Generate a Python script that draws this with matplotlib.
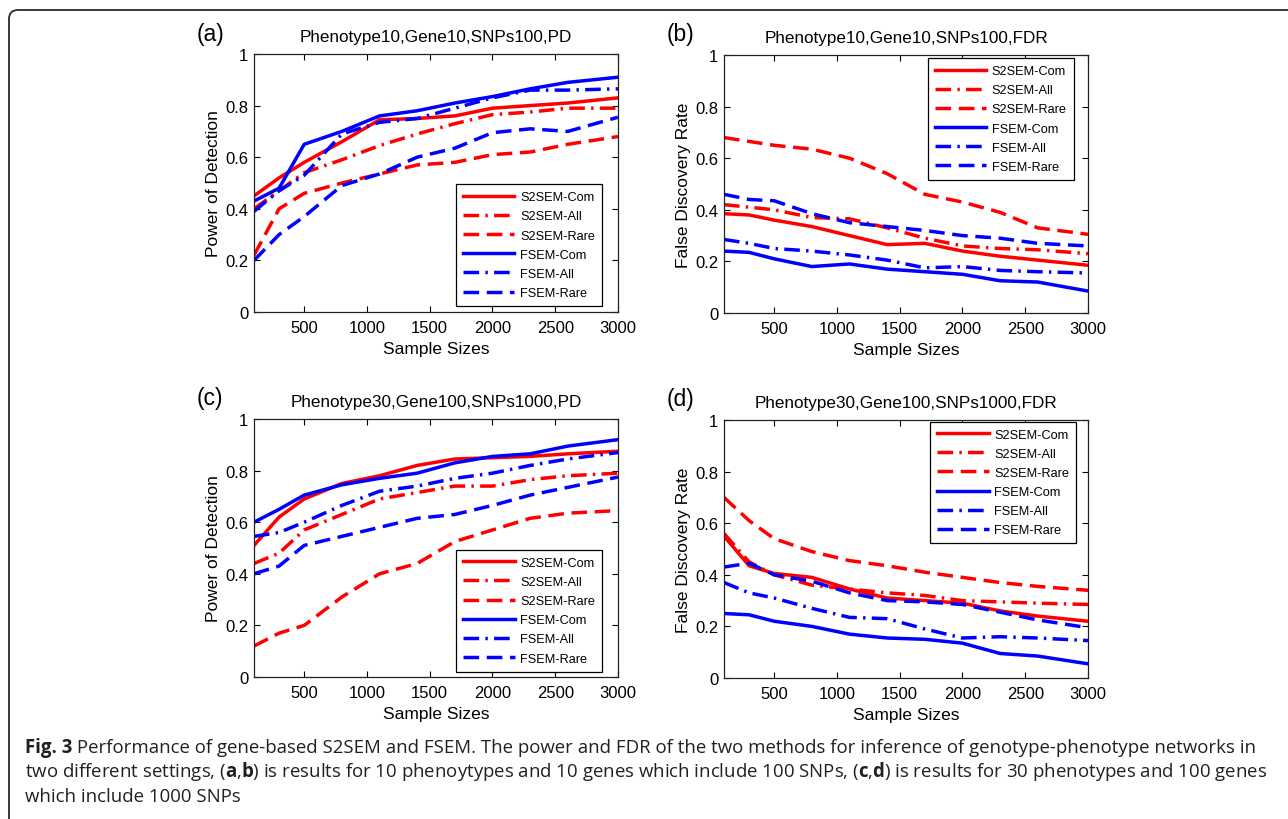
import numpy as np
import matplotlib.pyplot as plt
from matplotlib.patches import FancyBboxPatch
from matplotlib.transforms import IdentityTransform

plt.rcParams['font.family'] = ['Liberation Sans', 'DejaVu Sans']
plt.rcParams['mathtext.fontset'] = 'custom'
plt.rcParams['mathtext.rm'] = 'Open Sans'
plt.rcParams['mathtext.bf'] = 'Open Sans:bold'

sizes = [100, 300, 500, 800, 1100, 1400, 1700, 2000, 2300, 2600, 3000]
labels = ['S2SEM-Com', 'S2SEM-All', 'S2SEM-Rare', 'FSEM-Com', 'FSEM-All', 'FSEM-Rare']

# (a) power, 10 phenotypes
pd_a_s2_com = [0.45, 0.52, 0.58, 0.66, 0.745, 0.75, 0.76, 0.79, 0.80, 0.81, 0.83]
pd_a_s2_all = [0.40, 0.47, 0.54, 0.59, 0.645, 0.69, 0.73, 0.765, 0.775, 0.79, 0.79]
pd_a_s2_rare = [0.22, 0.40, 0.46, 0.50, 0.535, 0.57, 0.58, 0.61, 0.62, 0.65, 0.68]
pd_a_f_com = [0.43, 0.48, 0.65, 0.70, 0.76, 0.78, 0.81, 0.835, 0.865, 0.89, 0.91]
pd_a_f_all = [0.39, 0.47, 0.53, 0.69, 0.735, 0.75, 0.79, 0.83, 0.86, 0.86, 0.865]
pd_a_f_rare = [0.20, 0.30, 0.37, 0.49, 0.535, 0.60, 0.635, 0.695, 0.71, 0.70, 0.755]

# (b) FDR, 10 phenotypes
fdr_b_s2_com = [0.385, 0.38, 0.36, 0.335, 0.30, 0.265, 0.27, 0.24, 0.22, 0.205, 0.185]
fdr_b_s2_all = [0.42, 0.41, 0.40, 0.37, 0.365, 0.33, 0.29, 0.26, 0.25, 0.245, 0.23]
fdr_b_s2_rare = [0.68, 0.665, 0.65, 0.635, 0.60, 0.54, 0.46, 0.43, 0.39, 0.33, 0.305]
fdr_b_f_com = [0.24, 0.235, 0.21, 0.18, 0.19, 0.17, 0.16, 0.15, 0.125, 0.12, 0.085]
fdr_b_f_all = [0.285, 0.27, 0.25, 0.24, 0.225, 0.205, 0.175, 0.18, 0.165, 0.16, 0.155]
fdr_b_f_rare = [0.46, 0.44, 0.435, 0.385, 0.35, 0.335, 0.32, 0.30, 0.29, 0.27, 0.26]

# (c) power, 30 phenotypes
pd_c_s2_com = [0.51, 0.62, 0.69, 0.75, 0.78, 0.82, 0.845, 0.85, 0.855, 0.865, 0.875]
pd_c_s2_all = [0.44, 0.48, 0.57, 0.63, 0.69, 0.715, 0.74, 0.74, 0.765, 0.78, 0.79]
pd_c_s2_rare = [0.12, 0.17, 0.20, 0.31, 0.40, 0.44, 0.525, 0.57, 0.615, 0.635, 0.645]
pd_c_f_com = [0.60, 0.65, 0.705, 0.745, 0.77, 0.79, 0.83, 0.855, 0.865, 0.895, 0.92]
pd_c_f_all = [0.545, 0.56, 0.60, 0.665, 0.72, 0.74, 0.77, 0.79, 0.82, 0.845, 0.87]
pd_c_f_rare = [0.40, 0.43, 0.51, 0.545, 0.58, 0.615, 0.63, 0.665, 0.705, 0.735, 0.775]

# (d) FDR, 30 phenotypes
fdr_d_s2_com = [0.55, 0.435, 0.405, 0.39, 0.345, 0.31, 0.30, 0.29, 0.26, 0.24, 0.22]
fdr_d_s2_all = [0.56, 0.45, 0.40, 0.36, 0.345, 0.33, 0.32, 0.30, 0.295, 0.29, 0.285]
fdr_d_s2_rare = [0.70, 0.61, 0.54, 0.49, 0.455, 0.435, 0.41, 0.39, 0.37, 0.355, 0.34]
fdr_d_f_com = [0.25, 0.245, 0.22, 0.20, 0.17, 0.155, 0.15, 0.135, 0.095, 0.085, 0.055]
fdr_d_f_all = [0.37, 0.33, 0.31, 0.27, 0.235, 0.23, 0.19, 0.155, 0.16, 0.155, 0.145]
fdr_d_f_rare = [0.43, 0.445, 0.40, 0.375, 0.33, 0.30, 0.295, 0.285, 0.255, 0.225, 0.195]

dashdot = (0, (4.5, 1.8, 0.7, 1.8))
dashed = (0, (4.5, 2.2))
styles = [('red', '-'), ('red', dashdot), ('red', dashed),
          ('blue', '-'), ('blue', dashdot), ('blue', dashed)]

fig = plt.figure(figsize=(12.88, 8.2), dpi=100)

def panel(rect, tag, title, ylabel, series, legend_loc, anchor):
    ax = fig.add_axes(rect)
    for (color, ls), lab, ys in zip(styles, labels, series):
        ax.plot(sizes, ys, color=color, linestyle=ls, lw=2.5, label=lab)
    ax.set_xlim(100, 3000)
    ax.set_ylim(0, 1)
    ax.set_xticks([500, 1000, 1500, 2000, 2500, 3000])
    ax.set_yticks([0, 0.2, 0.4, 0.6, 0.8, 1])
    ax.set_yticklabels(['0', '0.2', '0.4', '0.6', '0.8', '1'])
    ax.tick_params(direction='in', top=True, right=True, length=4, width=0.8,
                   labelsize=12, pad=4)
    ax.tick_params(axis='x', pad=6)
    for sp in ax.spines.values():
        sp.set_linewidth(0.9)
        sp.set_color('#222222')
    ax.set_title(title, fontsize=12.3, pad=9)
    ax.set_xlabel('Sample Sizes', fontsize=12.5, labelpad=4)
    ax.set_ylabel(ylabel, fontsize=12.5, labelpad=3)
    leg = ax.legend(loc=legend_loc, bbox_to_anchor=anchor, fontsize=9.2, handlelength=4.0,
                    labelspacing=0.56, fancybox=False, edgecolor='black', framealpha=1,
                    borderaxespad=0, handletextpad=0.45, borderpad=0.55)
    leg.get_frame().set_linewidth(0.9)
    fig.text(rect[0] - 57 / 1288, rect[1] + rect[3] + 21 / 820, tag,
             fontsize=16.5, va='center', ha='left')
    return ax

w, h = 364 / 1288, 258 / 820
panel([254 / 1288, 1 - 313 / 820, w, h], '(a)', 'Phenotype10,Gene10,SNPs100,PD',
      'Power of Detection',
      [pd_a_s2_com, pd_a_s2_all, pd_a_s2_rare, pd_a_f_com, pd_a_f_all, pd_a_f_rare],
      'lower right', (0.956, 0.023))
panel([724 / 1288, 1 - 314 / 820, w, h], '(b)', 'Phenotype10,Gene10,SNPs100,FDR',
      'False Discovery Rate',
      [fdr_b_s2_com, fdr_b_s2_all, fdr_b_s2_rare, fdr_b_f_com, fdr_b_f_all, fdr_b_f_rare],
      'upper right', (0.961, 0.988))
panel([254 / 1288, 1 - 678 / 820, w, h], '(c)', 'Phenotype30,Gene100,SNPs1000,PD',
      'Power of Detection',
      [pd_c_s2_com, pd_c_s2_all, pd_c_s2_rare, pd_c_f_com, pd_c_f_all, pd_c_f_rare],
      'lower right', (0.957, 0.021))
panel([724 / 1288, 1 - 679 / 820, w, h], '(d)', 'Phenotype30,Gene100,SNPs1000,FDR',
      'False Discovery Rate',
      [fdr_d_s2_com, fdr_d_s2_all, fdr_d_s2_rare, fdr_d_f_com, fdr_d_f_all, fdr_d_f_rare],
      'upper right', (0.968, 0.994))

# rounded frame around the figure (pixel coordinates)
frame = FancyBboxPatch((9, -60), 1400, 809 + 60, boxstyle='round,pad=0,rounding_size=9',
                       fill=False, edgecolor='#2a2a2a', lw=1.3, transform=IdentityTransform())
fig.add_artist(frame)

# caption: bold "Fig. 3" then the rest right after it
cap_kw = dict(fontfamily='Open Sans', fontsize=13.4, color='#231f20', va='baseline', ha='left')
x0 = 25 / 1288
y0 = 1 - 753 / 820
fig_tag = fig.text(x0, y0, 'Fig. 3', fontweight='bold', **cap_kw)
renderer = fig.canvas.get_renderer()
tag_right = fig.transFigure.inverted().transform(
    (fig_tag.get_window_extent(renderer).x1, 0))[0]
fig.text(tag_right, y0, ' Performance of gene-based S2SEM and FSEM. The power and FDR of the two '
         'methods for inference of genotype-phenotype networks in', **cap_kw)

caption_rest = [
    r'two different settings, ($\mathbf{a}$,$\mathbf{b}$) is results for 10 phenoytypes and 10 genes which include 100 SNPs, ($\mathbf{c}$,$\mathbf{d}$) is results for 30 phenotypes and 100 genes',
    'which include 1000 SNPs',
]
for i, line in enumerate(caption_rest):
    fig.text(x0, 1 - (753 + 24.5 * (i + 1)) / 820, line, **cap_kw)

fig.savefig('out.png', dpi=100)
